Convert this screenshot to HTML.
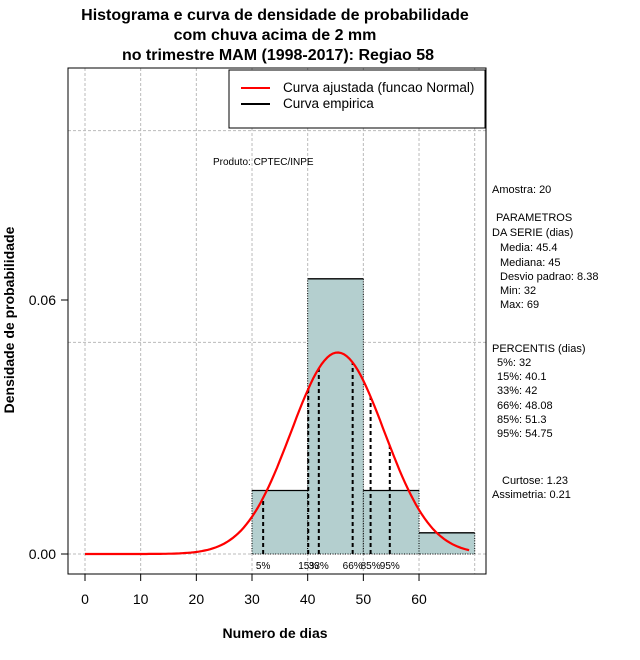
<!DOCTYPE html>
<html><head><meta charset="utf-8"><style>
body{margin:0;background:#fff}
svg{display:block;font-family:"Liberation Sans",sans-serif}
</style></head><body>
<svg id="c" width="640" height="660">
<g id="grid"></g>
<g id="bars"></g>
<g id="pct"></g>
<path id="curve" fill="none" stroke="#f00" stroke-width="2.2"/>
<rect x="68" y="68" width="418" height="506" fill="none" stroke="#000"/>
<g id="axes"></g>
<g font-weight="bold" font-size="16" text-anchor="middle">
<text x="275" y="20">Histograma e curva de densidade de probabilidade</text>
<text x="275" y="40">com chuva acima de 2 mm</text>
<text x="278" y="60">no trimestre MAM (1998-2017): Regiao 58</text>
</g>
<text x="275" y="638" font-weight="bold" font-size="14" text-anchor="middle">Numero de dias</text>
<text transform="translate(14,320) rotate(-90)" font-weight="bold" font-size="14" text-anchor="middle">Densidade de probabilidade</text>
<g>
<rect x="229" y="70" width="256" height="58" fill="#fff" stroke="#000"/>
<line x1="241" y1="88" x2="270" y2="88" stroke="#f00" stroke-width="2"/>
<line x1="241" y1="104" x2="270" y2="104" stroke="#000" stroke-width="2"/>
<text x="283" y="92" font-size="13.5">Curva ajustada (funcao Normal)</text>
<text x="283" y="108" font-size="13.5">Curva empirica</text>
</g>
<text x="213" y="165" font-size="10">Produto: CPTEC/INPE</text>
<g font-size="11">
<text x="492" y="193">Amostra: 20</text>
<text x="496" y="221">PARAMETROS</text>
<text x="492" y="236">DA SERIE (dias)</text>
<text x="500" y="251">Media: 45.4</text>
<text x="500" y="266">Mediana: 45</text>
<text x="500" y="280">Desvio padrao: 8.38</text>
<text x="500" y="294">Min: 32</text>
<text x="500" y="308">Max: 69</text>
<text x="492" y="352">PERCENTIS (dias)</text>
<text x="497" y="366">5%: 32</text>
<text x="497" y="380">15%: 40.1</text>
<text x="497" y="394">33%: 42</text>
<text x="497" y="409">66%: 48.08</text>
<text x="497" y="423">85%: 51.3</text>
<text x="497" y="437">95%: 54.75</text>
<text x="502" y="484">Curtose: 1.23</text>
<text x="492" y="498">Assimetria: 0.21</text>
</g>
</svg>
<script>
const binEdges=[30,40,50,60,70];
const binDensity=[0.015,0.065,0.015,0.005];
const mean=45.4, sd=8.38;
const pctValues=[32,40.1,42,48.08,51.3,54.75];
const pctLabels=["5%","15%","33%","66%","85%","95%"];
const xTicks=[0,10,20,30,40,50,60];
const yTicks=[0,0.06];
const xGrid=[0,10,20,30,40,50,60,70];
const yGrid=[0,0.05,0.1];
const NS="http://www.w3.org/2000/svg";
const X=v=>85+v*5.567, Y=v=>554-v*4233.3;
function mk(t,a,p){const e=document.createElementNS(NS,t);for(const k in a)e.setAttribute(k,a[k]);p.appendChild(e);return e;}
const g=document.getElementById('grid');
xGrid.forEach(v=>{const e=mk('line',{x1:X(v),x2:X(v),y1:68,y2:574,stroke:'#bbb','stroke-dasharray':'3,2'},g);

});
yGrid.forEach(v=>{const e=mk('line',{x1:68,x2:486,y1:Y(v),y2:Y(v),stroke:'#bbb','stroke-dasharray':'3,2'},g);

});
const b=document.getElementById('bars');
binDensity.forEach((d,i)=>{const x0=X(binEdges[i]),x1=X(binEdges[i+1]),y=Y(d);
const r=mk('rect',{x:x0,y:y,width:x1-x0,height:Y(0)-y,fill:'#b4cfcf'},b);


mk('path',{d:`M${x0},${Y(0)}V${y}M${x1},${y}V${Y(0)}H${x0}`,stroke:'#000','stroke-dasharray':'1,1.5',fill:'none'},b);
mk('line',{x1:x0,x2:x1,y1:y,y2:y,stroke:'#000','stroke-width':1.3},b);});
const pdf=v=>Math.exp(-0.5*((v-mean)/sd)**2)/(sd*Math.sqrt(2*Math.PI));
const p=document.getElementById('pct');
pctValues.forEach((v,i)=>{const l=mk('line',{x1:X(v),x2:X(v),y1:Y(0),y2:Y(pdf(v)),stroke:'#000','stroke-width':2,'stroke-dasharray':'4,3'},p);


const t=mk('text',{x:X(v),y:569,'font-size':10,'text-anchor':'middle'},p);t.textContent=pctLabels[i];

});
let d='';for(let v=0;v<=69;v+=0.5){d+=(v?'L':'M')+X(v).toFixed(1)+','+Y(pdf(v)).toFixed(1);}
document.getElementById('curve').setAttribute('d',d);
const a=document.getElementById('axes');
mk('line',{x1:X(0),x2:X(60),y1:574,y2:574,stroke:'#000'},a);
xTicks.forEach(v=>{mk('line',{x1:X(v),x2:X(v),y1:574,y2:581,stroke:'#000'},a);
const t=mk('text',{x:X(v),y:604,'font-size':14,'text-anchor':'middle'},a);t.textContent=v;

});
yTicks.forEach(v=>{mk('line',{x1:61,x2:68,y1:Y(v),y2:Y(v),stroke:'#000'},a);
const t=mk('text',{x:56,y:Y(v)+5,'font-size':14,'text-anchor':'end'},a);t.textContent=v.toFixed(2);

});
</script>
</body></html>
